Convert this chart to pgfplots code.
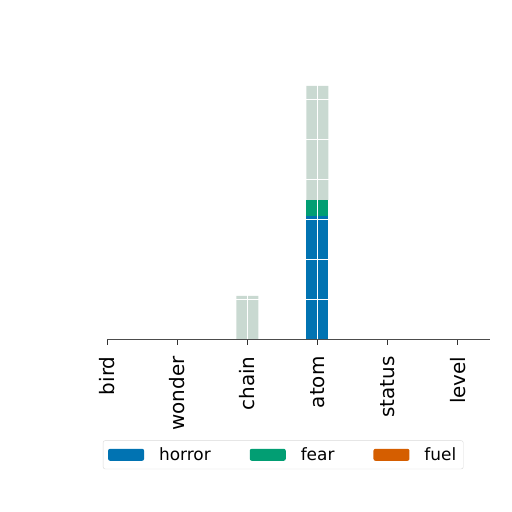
\documentclass[border=0pt]{standalone}
\usepackage{pgfplots}
\pgfplotsset{compat=1.18}
\usepackage{fontspec}
\setmainfont{DejaVu Sans}
\definecolor{horrorc}{HTML}{0173B2}
\definecolor{fearc}{HTML}{029E73}
\definecolor{fuelc}{HTML}{D55E00}
\definecolor{fearfade}{HTML}{C9D9D1}
\begin{document}
\begin{tikzpicture}[x=1bp,y=1bp]
\path (0,0) rectangle (512,512);
\begin{axis}[
  at={(107bp,172bp)}, anchor=south west,
  scale only axis, width=383bp, height=280bp,
  ybar stacked, bar width=22bp,
  xmin=0, xmax=5.46, ymin=0, ymax=7,
  axis x line*=bottom, axis y line*=left,
  y axis line style={draw=none},
  x axis line style={draw=black!70, line width=1pt},
  xtick={0,1,2,3,4,5},
  xticklabels={bird,wonder,chain,atom,status,level},
  xticklabel style={rotate=90, anchor=east, font=\fontsize{20}{22}\selectfont},
  xticklabel shift=8bp,
  x tick style={draw=black!80, line width=0.8pt},
  y tick style={draw=none},
  yticklabels={},
  tick align=outside, major tick length=5bp,
  ytick={1,2,3,4,5,6,7},
  xmajorgrids, ymajorgrids, major grid style={draw=white, line width=1pt},
  axis on top,
  legend columns=3,
  legend style={at={(0.46,-0.41)}, anchor=center, draw=black!15, rounded corners=2pt,
    font=\fontsize{17}{19}\selectfont, /tikz/every even column/.append style={column sep=37bp},
    inner sep=5pt, /tikz/every odd column/.append style={column sep=13bp}},
  legend image code/.code={\draw[#1, draw=none] (0bp,-6bp) rectangle (36bp,6bp);},
]
\addplot[fill=horrorc, draw=none] coordinates {(0,0) (1,0) (2,0) (3,3.1) (4,0) (5,0)};
\addlegendentry{horror}
\addplot[fill=fearc, draw=none, forget plot] coordinates {(0,0) (1,0) (2,0) (3,0.4) (4,0) (5,0)};
\addplot[fill=fearfade, draw=none, forget plot] coordinates {(0,0) (1,0) (2,1.1) (3,2.85) (4,0) (5,0)};
\addlegendimage{fill=fearc, draw=none}
\addlegendentry{fear}
\addplot[fill=fuelc, draw=none] coordinates {(0,0) (1,0) (2,0) (3,0) (4,0) (5,0)};
\addlegendentry{fuel}
\end{axis}
\end{tikzpicture}
\end{document}
